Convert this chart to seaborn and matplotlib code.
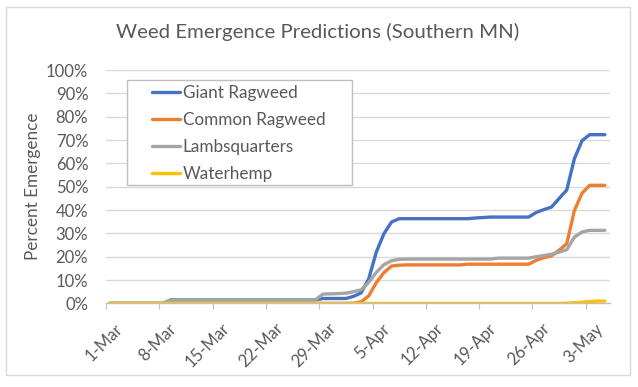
import matplotlib
matplotlib.use("Agg")
import matplotlib.pyplot as plt
import matplotlib.dates as mdates
from matplotlib.patches import Rectangle
from matplotlib.ticker import MultipleLocator, FuncFormatter
from matplotlib.transforms import ScaledTranslation, blended_transform_factory
import seaborn as sns
import pandas as pd

# ---- data (percent emergence, daily from 1-Mar) ----
start_date = "2020-03-01 12:00"
n_days = 66
series_names = ["Giant Ragweed", "Common Ragweed", "Lambsquarters", "Waterhemp"]

giant_ragweed = ([0.0] * 8 + [1.5] * 20 + [2.1] * 4 +
                 [3.0, 4.5, 10.5, 22.0, 29.9, 34.9, 36.3] + [36.3] * 9 +
                 [36.6, 36.8, 37.0, 37.0] + [37.0] * 4 +
                 [39.0, 40.2, 41.3, 45.0, 48.6, 62.0, 69.7, 72.3, 72.3, 72.3])
common_ragweed = ([0.0] * 32 +
                  [0.1, 0.7, 3.2, 8.9, 13.2, 16.0, 16.4] + [16.5] * 8 + [16.8] * 9 +
                  [18.5, 19.6, 20.4, 22.8, 25.6, 39.8, 47.2, 50.6, 50.6, 50.6])
lambsquarters = ([0.0] * 8 + [1.5] * 20 + [4.0, 4.1, 4.2, 4.4] +
                 [5.0, 5.8, 9.0, 13.3, 16.6, 18.3, 18.9] + [19.0] * 12 + [19.4] * 5 +
                 [20.0, 20.5, 21.1, 22.0, 23.0, 28.4, 30.6, 31.3, 31.3, 31.3])
waterhemp = [0.0] * 60 + [0.1, 0.3, 0.5, 0.8, 1.0, 1.0]

tick_start = "2020-03-01"
tick_end = "2020-05-03"

colors = ["#4472C4", "#ED7D31", "#A5A5A5", "#FFC000"]
text_color = "#595959"

dates = pd.date_range(start_date, periods=n_days, freq="D")
frames = []
for name, vals in zip(series_names, [giant_ragweed, common_ragweed, lambsquarters, waterhemp]):
    frames.append(pd.DataFrame({"Date": dates, "Value": vals, "Series": name}))
df = pd.concat(frames, ignore_index=True)

sns.set_theme(style="white")
plt.rcParams["font.family"] = ["Lato", "DejaVu Sans"]

fig = plt.figure(figsize=(6.38, 3.87), dpi=100)
ax = fig.add_axes([0.166, 0.216, 0.79, 0.603])

sns.lineplot(data=df, x="Date", y="Value", hue="Series", hue_order=series_names,
             palette=colors, linewidth=2.4, ax=ax, legend=True)

ax.set_ylim(0, 100)
ax.set_xlim(pd.Timestamp("2020-03-01"), pd.Timestamp("2020-05-06 04:00"))
ax.yaxis.set_major_locator(MultipleLocator(10))
ax.yaxis.set_major_formatter(FuncFormatter(lambda v, p: f"{int(round(v))}%"))
tick_dates = pd.date_range(tick_start, tick_end, freq="7D")
ax.set_xticks(tick_dates)

ax.grid(axis="y", color="#D9D9D9", linewidth=1.0)
ax.set_axisbelow(True)
for s in ["left", "right", "top"]:
    ax.spines[s].set_visible(False)
ax.spines["bottom"].set_color("#BFBFBF")
ax.spines["bottom"].set_linewidth(1.0)

ax.tick_params(axis="y", length=0, pad=12.7, labelsize=12, labelcolor=text_color)
ax.tick_params(axis="x", length=4, width=0.8, color="#BFBFBF", direction="out",
               bottom=True, labelbottom=False)

# rotated date labels (Excel style: end of text just right of the tick)
lab_tr = blended_transform_factory(ax.transData, ax.transAxes) + \
    ScaledTranslation(0.09, -0.17, fig.dpi_scale_trans)
for d in tick_dates:
    ax.text(mdates.date2num(d), 0, f"{d.day}-{d.strftime('%b')}", transform=lab_tr,
            rotation=45, rotation_mode="anchor", ha="right", va="top",
            fontsize=12, color=text_color, clip_on=False)

ax.set_xlabel("")
ax.set_ylabel("Percent Emergence", fontsize=12.3, color=text_color)
ax.yaxis.set_label_coords(-0.129, 0.5)

# legend with separate frame
ax.add_patch(Rectangle((0.042, 0.507), 0.446, 0.45, transform=ax.transAxes,
                       facecolor="white", edgecolor="#BFBFBF", linewidth=1.0, zorder=1.5))
leg = ax.legend(loc="upper left", bbox_to_anchor=(0.092, 0.936), borderaxespad=0,
                frameon=False, fontsize=12.3, handlelength=1.65, handletextpad=0.12,
                labelspacing=0.64, borderpad=0)
for t in leg.get_texts():
    t.set_color(text_color)
for h in leg.get_lines():
    h.set_linewidth(2.4)

fig.text(0.498, 0.918, "Weed Emergence Predictions (Southern MN)", ha="center", va="center",
         fontsize=14.7, color=text_color)

fig.patches.append(Rectangle((6 / 638, 1 - 375 / 387), 624 / 638, 368 / 387,
                             transform=fig.transFigure, facecolor="none",
                             edgecolor="#D9D9D9", linewidth=1.0))

fig.savefig("out.png", dpi=100)
